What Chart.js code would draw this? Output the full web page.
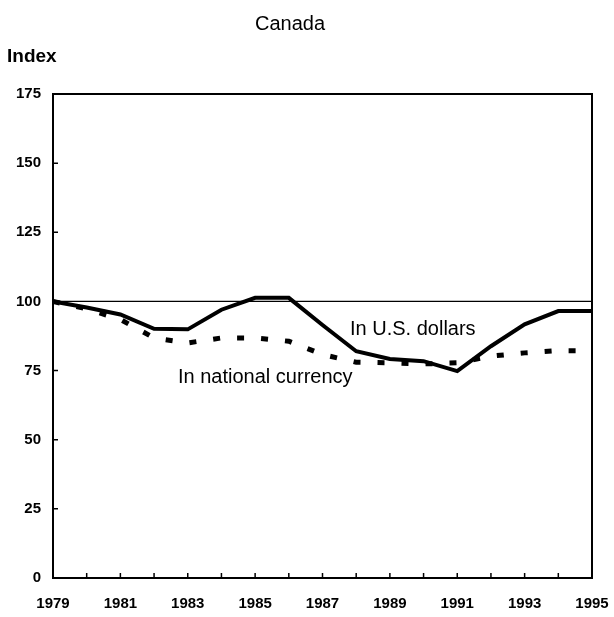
<!DOCTYPE html>
<html>
<head>
  <title>Canada</title>
  <script src="https://cdn.jsdelivr.net/npm/chart.js"></script>
  <style>
    body { margin: 0; background: #fff; }
    canvas { display: block; }
  </style>
</head>
<body>
  <canvas id="chart" width="614" height="617"></canvas>

  <script>
    // Data
    const years = [1979, 1980, 1981, 1982, 1983, 1984, 1985, 1986, 1987, 1988, 1989, 1990, 1991, 1992, 1993, 1994, 1995];
    const usDollars = [100, 97.8, 95.3, 90.1, 89.9, 97, 101.3, 101.3, 91.5, 82, 79.2, 78.4, 74.8, 83.8, 91.7, 96.5, 96.5];
    const nationalCurrency = [100, 97.3, 93.5, 86.8, 85, 86.8, 86.8, 85.6, 80.8, 78, 77.8, 77.4, 77.8, 80.2, 81.4, 82.2, 82.2];
    const yTicks = [0, 25, 50, 75, 100, 125, 150, 175];

    const FONT = '"Liberation Sans", Arial, sans-serif';

    function toPoints(values) {
      return years.map((y, i) => ({ x: y, y: values[i] }));
    }

    // Frame, reference line at 100, inward tick marks and text labels
    const decorations = {
      id: 'decorations',
      beforeDatasetsDraw(chart) {
        const ctx = chart.ctx;
        const a = chart.chartArea;
        const y100 = chart.scales.y.getPixelForValue(100);
        ctx.save();
        ctx.strokeStyle = '#000';
        ctx.lineWidth = 1.2;
        ctx.beginPath();
        ctx.moveTo(a.left, y100);
        ctx.lineTo(a.right, y100);
        ctx.stroke();
        ctx.restore();
      },
      afterDraw(chart) {
        const ctx = chart.ctx;
        const a = chart.chartArea;
        const xScale = chart.scales.x;
        const yScale = chart.scales.y;
        ctx.save();
        ctx.strokeStyle = '#000';
        ctx.lineWidth = 2;
        ctx.strokeRect(a.left, a.top, a.right - a.left, a.bottom - a.top);

        // tick marks pointing into the plot
        ctx.lineWidth = 1.5;
        ctx.beginPath();
        years.forEach(y => {
          const px = xScale.getPixelForValue(y);
          ctx.moveTo(px, a.bottom);
          ctx.lineTo(px, a.bottom - 5);
        });
        yTicks.forEach(v => {
          const py = yScale.getPixelForValue(v);
          ctx.moveTo(a.left, py);
          ctx.lineTo(a.left + 5, py);
        });
        ctx.stroke();

        ctx.fillStyle = '#000';
        ctx.textBaseline = 'middle';
        ctx.textAlign = 'center';
        ctx.font = '20px ' + FONT;
        ctx.fillText('Canada', 290, 24);

        ctx.textAlign = 'left';
        ctx.font = 'bold 19px ' + FONT;
        ctx.fillText('Index', 7, 57);

        ctx.font = '20px ' + FONT;
        ctx.fillText('In U.S. dollars', 350, 329);
        ctx.fillText('In national currency', 178, 377);
        ctx.restore();
      }
    };

    const chart = new Chart(document.getElementById('chart').getContext('2d'), {
      type: 'line',
      data: {
        datasets: [
          {
            label: 'In U.S. dollars',
            data: toPoints(usDollars),
            borderColor: '#000',
            borderWidth: 4,
            pointRadius: 0,
            tension: 0,
            fill: false
          },
          {
            label: 'In national currency',
            data: toPoints(nationalCurrency),
            borderColor: '#000',
            borderWidth: 5,
            borderDash: [7, 17],
            borderCapStyle: 'butt',
            pointRadius: 0,
            tension: 0,
            fill: false
          }
        ]
      },
      options: {
        responsive: false,
        animation: false,
        devicePixelRatio: 1,
        layout: { padding: { top: 94, right: 22, left: 0, bottom: 0 } },
        plugins: {
          legend: { display: false },
          title: { display: false },
          tooltip: { enabled: false }
        },
        scales: {
          x: {
            type: 'linear',
            min: 1979,
            max: 1995,
            afterFit(scale) {
              scale.height = 39;
              scale.paddingLeft = 0;
              scale.paddingRight = 0;
            },
            grid: { display: false, drawTicks: false },
            border: { display: false },
            ticks: {
              stepSize: 1,
              autoSkip: false,
              maxRotation: 0,
              padding: 17,
              color: '#000',
              font: { family: FONT, size: 15, weight: 'bold' },
              callback: v => ((v - 1979) % 2 === 0 ? String(v) : '')
            }
          },
          y: {
            min: 0,
            max: 175,
            afterFit(scale) {
              scale.width = 53;
              scale.paddingTop = 0;
              scale.paddingBottom = 0;
            },
            grid: { display: false, drawTicks: false },
            border: { display: false },
            ticks: {
              stepSize: 25,
              padding: 12,
              color: '#000',
              font: { family: FONT, size: 15, weight: 'bold' }
            }
          }
        }
      },
      plugins: [decorations]
    });
  </script>
</body>
</html>
